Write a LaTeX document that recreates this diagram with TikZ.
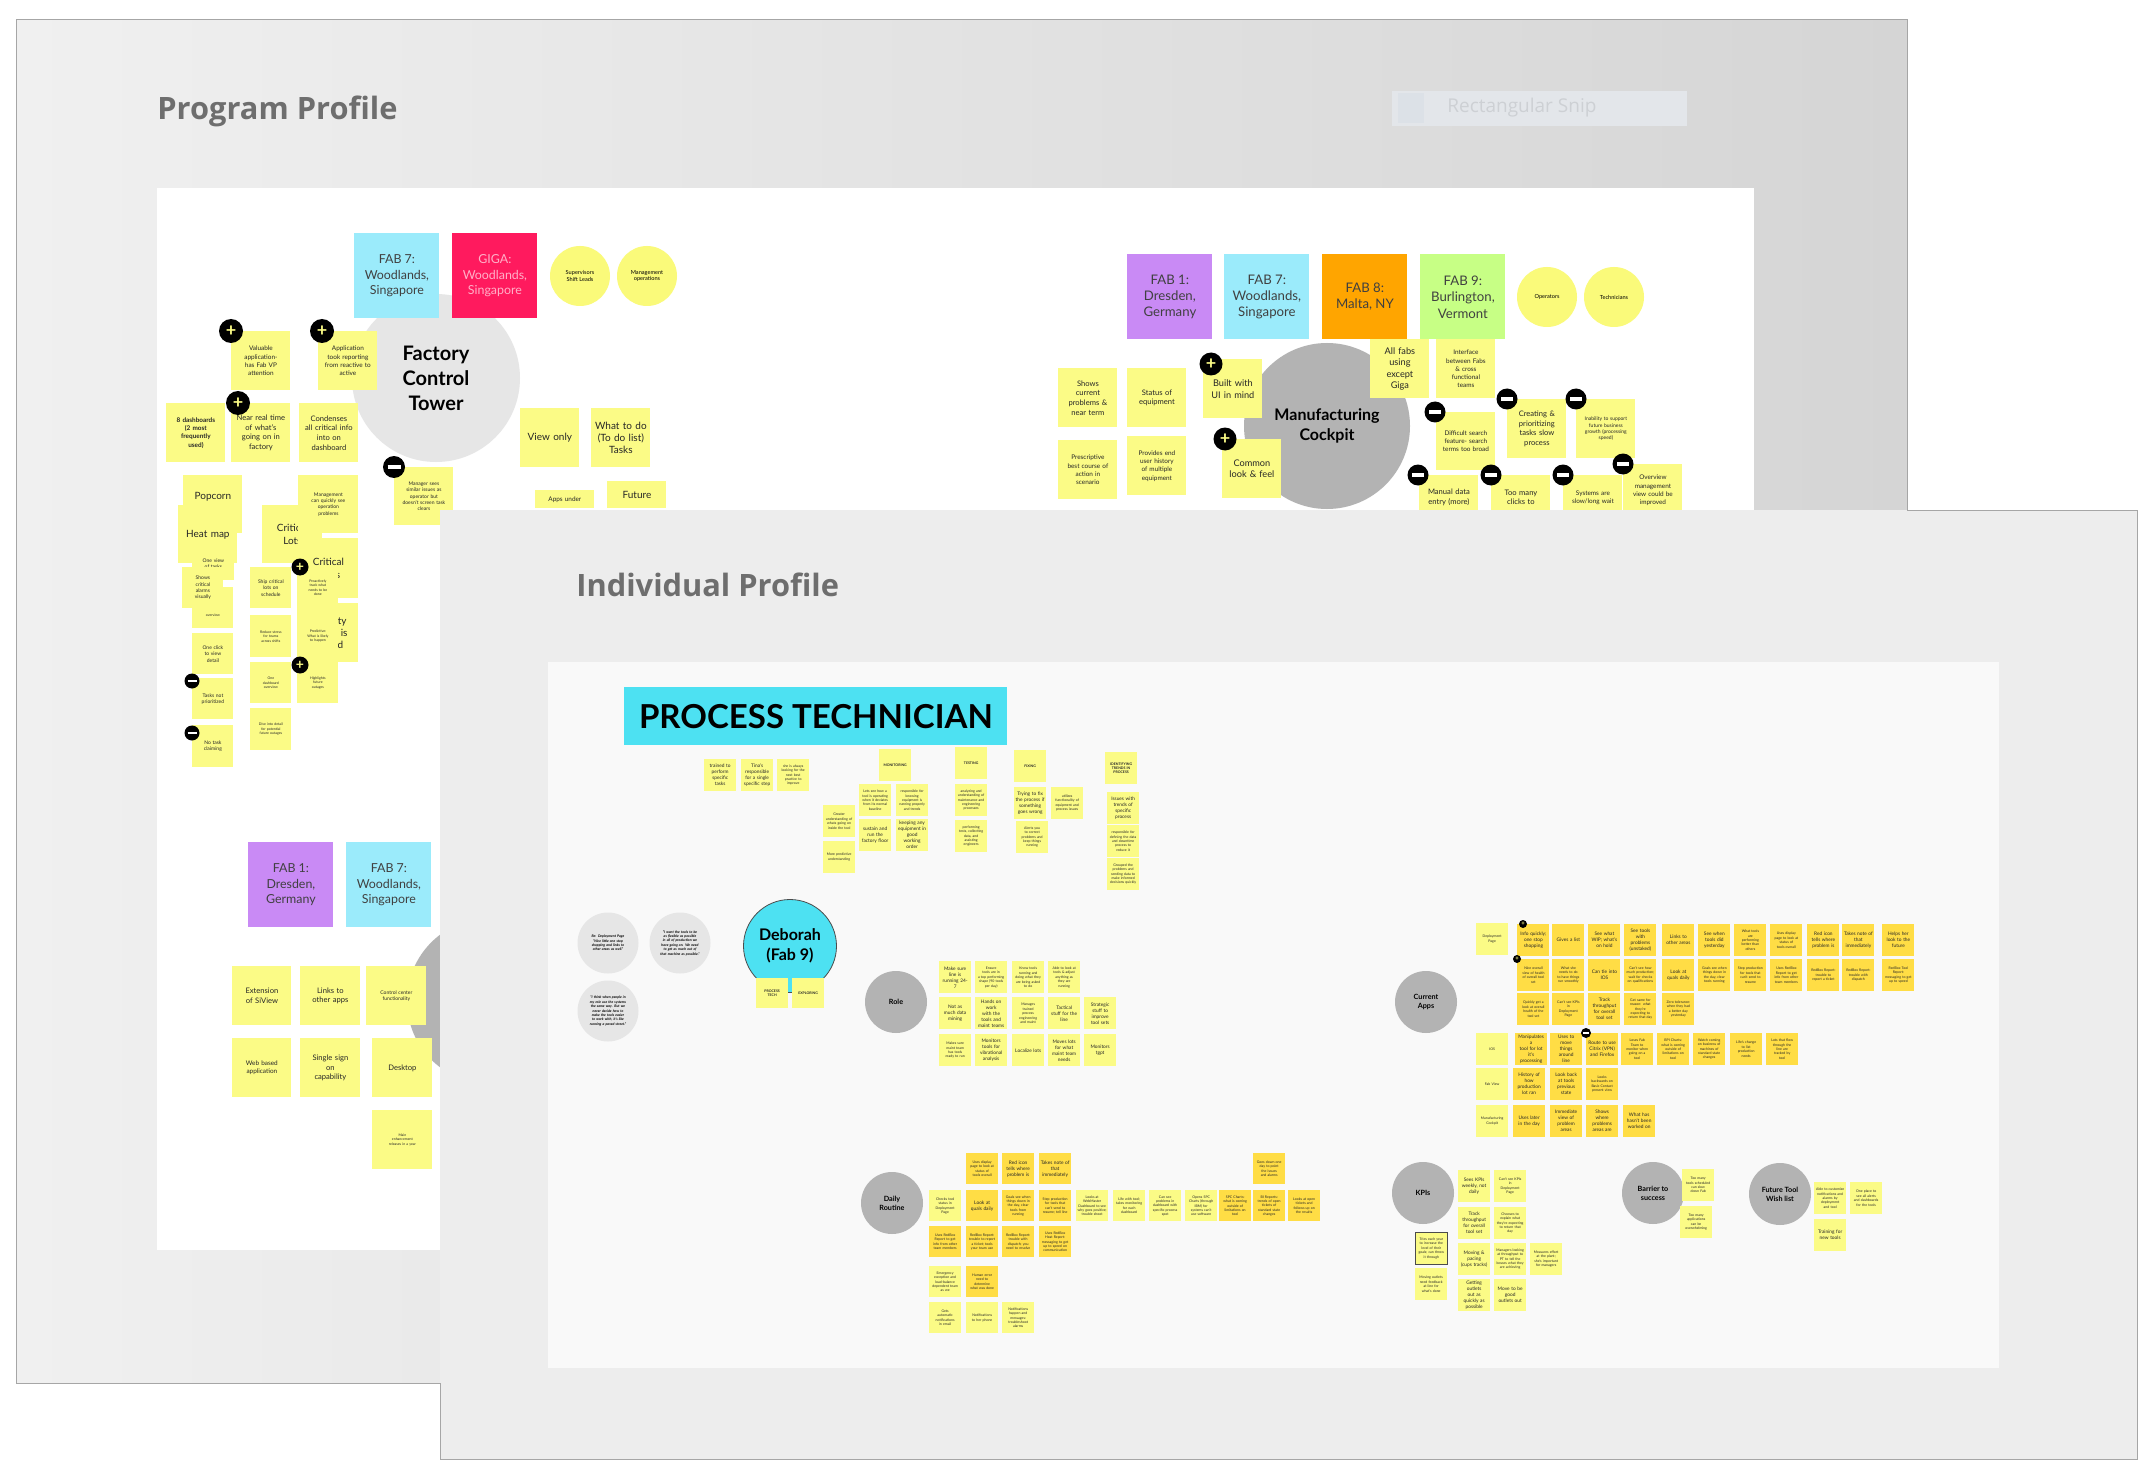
\documentclass[tikz,border=0pt]{standalone}
\usepackage{fontspec}
\setmainfont{Lato}
\newfontfamily\ttlfont{Open Sans}
\usetikzlibrary{shapes.geometric}
\definecolor{stL}{HTML}{FBFB86}
\definecolor{stD}{HTML}{FFDD45}
\definecolor{cyF}{HTML}{9BEBFB}
\definecolor{gig}{HTML}{FF1A5E}
\definecolor{pinkT}{HTML}{FFB0C8}
\definecolor{pur}{HTML}{C98AF5}
\definecolor{org}{HTML}{FFA500}
\definecolor{grn}{HTML}{C7FF85}
\definecolor{ycir}{HTML}{FAFA7A}
\definecolor{gL}{HTML}{E6E6E6}
\definecolor{gD}{HTML}{B3B3B3}
\definecolor{cyB}{HTML}{4DE1F2}
\definecolor{ttl}{HTML}{6E6E6E}
\definecolor{bgA}{HTML}{F0F0F0}
\definecolor{bgB}{HTML}{D5D5D5}
\definecolor{fpn}{HTML}{EDEDED}
\definecolor{fbd}{HTML}{F9F9F9}
\definecolor{snip}{HTML}{E3E6EA}
\definecolor{snipI}{HTML}{DCE1E7}
\definecolor{snipT}{HTML}{CDD0D4}
\newcommand\fA{\fontsize{5}{6.2}\selectfont}
\newcommand\fB{\fontsize{3.8}{4.8}\selectfont}
\newcommand\fC{\fontsize{3.2}{4.1}\selectfont}
\newcommand\fD{\fontsize{2.5}{3.2}\selectfont}
\newcommand\fE{\fontsize{2.4}{3}\selectfont}
\newcommand\fF{\fontsize{1.75}{2.2}\selectfont}
\newcommand\fFab{\fontsize{6.6}{8.2}\selectfont}
\newcommand\fCir{\bfseries\fontsize{3.6}{4.4}\selectfont}
\newcommand{\Stk}[6][]{\pgfmathsetlengthmacro\tw{#4-2.5pt}\node[stk,anchor=north west,minimum width=#4,minimum height=#5,text width=\tw,#1] (#2) at (#3) {#6};}
\newcommand{\Sm}[4][]{\node[stk,anchor=north west,minimum width=15.75pt,minimum height=15.75pt,text width=14.5pt,font=\fE,#1] (#2) at (#3) {#4};}
\newcommand{\mbar}[2]{\color{white}\rule{#1}{#2}}
\begin{document}
\begin{tikzpicture}[x=0.5pt,y=-0.5pt,
 stk/.style={fill=stL,inner sep=0pt,align=center,font=\fB,text=black!85},
 sq/.style={inner sep=0pt,align=center,anchor=north west},
 pico/.style={circle,fill=black,inner sep=0pt,minimum size=12pt,text=stL,font=\bfseries\fontsize{9}{9}\selectfont},
 mico/.style={circle,fill=black,inner sep=0pt,minimum size=11pt},
 bub/.style={ellipse,inner sep=0pt,align=center}]
\fill[white] (0,0) rectangle (2154,1482);
\useasboundingbox (0,0) rectangle (2154,1482);
% ================= back panel: Program Profile =================
\shade[left color=bgA,right color=bgB] (16,20) rectangle (1907,1383);
\draw[gray!70,line width=0.5pt] (16,20) rectangle (1907,1383);
\node[anchor=west,inner sep=0pt,font=\ttlfont\bfseries\fontsize{15.4}{17}\selectfont,text=ttl] (pp) at (157,111) {Program Profile};
\node[anchor=north west,fill=snip,minimum width=147.5pt,minimum height=17.5pt,inner sep=0pt] (snipbox) at (1392,91) {};
\node[fill=snipI,minimum width=13pt,minimum height=15pt,inner sep=0pt] (snipicon) at (1411,108) {};
\node[anchor=west,inner sep=0pt,text=snipT,font=\ttlfont\fontsize{9.5}{10}\selectfont] (sniptxt) at (1447,108) {Rectangular Snip};
\fill[white] (157,188) rectangle (1754,1250);
% circles
\node[circle,fill=gL,minimum size=84pt,inner sep=0pt,align=center,font=\bfseries\fontsize{10}{12.5}\selectfont] (fct) at (436,378) {Factory\\Control\\Tower};
\node[circle,fill=gD,minimum size=83pt,inner sep=0pt,align=center,font=\bfseries\fontsize{8}{9.8}\selectfont] (mc) at (1327,426) {Manufacturing\\Cockpit};
\node[circle,fill=gD,minimum size=83pt,inner sep=0pt] (hc) at (490,1001) {};
% top-left cluster
\node[sq,fill=cyF,minimum width=42.5pt,minimum height=42.5pt,font=\fontsize{6.2}{7.8}\selectfont,text=black!75] (f7a) at (354,233) {FAB 7:\\Woodlands,\\Singapore};
\node[sq,fill=gig,minimum width=42.5pt,minimum height=42.5pt,font=\fontsize{6.2}{7.8}\selectfont,text=pinkT] (giga) at (452,233) {GIGA:\\Woodlands,\\Singapore};
\node[circle,fill=ycir,minimum size=30pt,inner sep=0pt,align=center,font=\fontsize{2.8}{3.4}\selectfont] (yc1) at (580,276) {Supervisors\\Shift Leads};
\node[circle,fill=ycir,minimum size=30pt,inner sep=0pt,align=center,font=\fontsize{2.8}{3.4}\selectfont] (yc2) at (647,276) {Management\\operations};
\Stk[font=\fC]{s1}{231,331}{29.5pt}{29.5pt}{Valuable\\application-\\has Fab VP\\attention}
\node[pico] (p1) at (231,331) {+};
\Stk[font=\fC]{s2}{318,331}{29.5pt}{29.5pt}{Application\\took reporting\\from reactive to\\active}
\node[pico] (p2) at (322,331) {+};
\Stk[font=\bfseries\fC]{s3}{166,403}{29.5pt}{29.5pt}{8 dashboards\\(2 most\\frequently\\used)}
\Stk[font=\fB]{s4}{231,403}{29.5pt}{29.5pt}{Near real time\\of what's\\going on in\\factory}
\Stk[font=\fB]{s5}{299,403}{29.5pt}{29.5pt}{Condenses\\all critical info\\into on\\dashboard}
\node[pico] (p3) at (238,403) {+};
\Stk[font=\fD]{s6}{394,467}{29.5pt}{29pt}{Manager sees\\similar issues as\\operator but\\doesn't screen task\\clears}
\node[mico] (m1) at (394,467) {\mbar{6.5pt}{1.8pt}};
\Stk[font=\fA]{s7}{520,408}{29.5pt}{29.5pt}{View only}
\Stk[font=\fA]{s8}{591,408}{29.5pt}{29.5pt}{What to do\\(To do list)\\Tasks}
\Stk[font=\fC]{s9}{535,490}{29.5pt}{9pt}{Apps under}
\Stk[font=\fA]{s10}{607,481}{29.5pt}{13.5pt}{Future}
% left column
\Stk[font=\fA]{s11}{183,475}{29.5pt}{29pt}{Popcorn\\[2pt]~}
\Stk[font=\fA]{s12}{178,505}{29.5pt}{29pt}{Heat map}
\Stk[font=\fD]{s13}{192,547}{21pt}{16.5pt}{One view\\of tasks}
\Stk[font=\fF]{s15}{192,587}{20.5pt}{20.5pt}{~\\~\\~\\~\\overview}
\Stk[font=\fD]{s14}{182,567}{20.5pt}{20.5pt}{Shows\\critical\\alarms\\visually}
\Stk[font=\fD]{s16}{192,633}{20.5pt}{20.5pt}{One click\\to view\\detail}
\Stk[font=\fD]{s17}{192,678}{20.5pt}{20.5pt}{Tasks not\\prioritized}
\node[mico,minimum size=7.5pt] (m2) at (192,681) {\mbar{4.5pt}{1.2pt}};
\Stk[font=\fD]{s18}{192,725}{20.5pt}{21pt}{No task\\claiming}
\node[mico,minimum size=7.5pt] (m3) at (192,733) {\mbar{4.5pt}{1.2pt}};
\Stk[font=\fA]{s20}{262,505}{30pt}{29pt}{Critical\\Lots}
\Stk[font=\fD]{s19}{298,475}{30pt}{29pt}{Management\\can quickly see\\operation\\problems}
\Stk[font=\fA]{s21}{298,538}{30pt}{30pt}{Critical\\Tasks}
\Stk[font=\fA]{s23}{297,603}{30.5pt}{29.5pt}{Visibility\\WIP/T is\\is valid}
\Stk[font=\fD]{s24}{250,567}{20.5pt}{20.5pt}{Ship critical\\lots on\\schedule}
\Stk[font=\fF]{s22}{297,567}{20.5pt}{20.5pt}{Proactively\\track what\\needs to be\\done}
\Stk[font=\fF]{s25}{250,615}{20.5pt}{21pt}{Reduce stress\\for teams\\across shifts}
\Stk[font=\fF]{s26}{297,615}{20.5pt}{21pt}{Predictive:\\What is likely\\to happen}
\node[pico,minimum size=8.5pt,font=\bfseries\fontsize{7}{7}\selectfont] (p4) at (300,567) {+};
\Stk[font=\fF]{s27}{250,662}{20.5pt}{20.5pt}{One\\dashboard\\overview}
\Stk[font=\fF]{s28}{297,662}{20.5pt}{20.5pt}{Highlights\\future\\outages}
\node[pico,minimum size=8.5pt,font=\bfseries\fontsize{7}{7}\selectfont] (p5) at (300,665) {+};
\Stk[font=\fF]{s29}{250,708}{20.5pt}{21pt}{Dive into detail\\for potential\\future outages}
% lower-left cluster
\node[sq,fill=pur,minimum width=42.5pt,minimum height=42.5pt,font=\fontsize{6.2}{7.7}\selectfont,text=black!75] (f1b) at (248,842) {FAB 1:\\Dresden,\\Germany};
\node[sq,fill=cyF,minimum width=42.5pt,minimum height=42.5pt,font=\fontsize{6.2}{7.7}\selectfont,text=black!75] (f7b) at (346,842) {FAB 7:\\Woodlands,\\Singapore};
\Stk[font=\fB]{s30}{232,966}{29.5pt}{29.5pt}{Extension\\of SiView}
\Stk[font=\fB]{s31}{300,966}{30pt}{29.5pt}{Links to\\other apps}
\Stk[font=\fD]{s32}{366,966}{30pt}{29.5pt}{Control center\\functionality}
\Stk[font=\fC]{s33}{232,1038}{29.5pt}{29.5pt}{Web based\\application}
\Stk[font=\fB]{s34}{300,1038}{30pt}{29.5pt}{Single sign\\on\\capability}
\Stk[font=\fB]{s35}{372,1038}{30pt}{29.5pt}{Desktop}
\Stk[font=\fF]{s36}{372,1110}{30pt}{29.5pt}{Main\\enhancement\\releases in a year}
% right cluster
\node[sq,fill=pur,minimum width=42.5pt,minimum height=42.5pt,font=\fFab,text=black!75] (f1c) at (1127,254) {FAB 1:\\Dresden,\\Germany};
\node[sq,fill=cyF,minimum width=42.5pt,minimum height=42.5pt,font=\fFab,text=black!75] (f7c) at (1224,254) {FAB 7:\\Woodlands,\\Singapore};
\node[sq,fill=org,minimum width=42.5pt,minimum height=42.5pt,font=\fFab,text=black!75] (f8) at (1322,254) {FAB 8:\\Malta, NY};
\node[sq,fill=grn,minimum width=42.5pt,minimum height=42.5pt,font=\fFab,text=black!75] (f9) at (1420,254) {FAB 9:\\Burlington,\\Vermont};
\node[circle,fill=ycir,minimum size=30pt,inner sep=0pt,font=\fontsize{2.8}{3.4}\selectfont] (yc3) at (1547,297) {Operators};
\node[circle,fill=ycir,minimum size=30pt,inner sep=0pt,font=\fontsize{2.8}{3.4}\selectfont] (yc4) at (1614,297) {Technicians};
\Stk[font=\fB]{s40}{1058,368}{29.5pt}{29.5pt}{Shows\\current\\problems \&\\near term}
\Stk[font=\fB]{s41}{1127,368}{29.5pt}{29.5pt}{Status of\\equipment}
\Stk[font=\fC]{s42}{1058,440}{29.5pt}{29.5pt}{Prescriptive\\best course of\\action in\\scenario}
\Stk[font=\fC]{s43}{1127,436}{29.5pt}{29.5pt}{Provides end\\user history\\of multiple\\equipment}
\Stk[font=\fontsize{4.6}{5.8}\selectfont]{s44}{1203,359}{29.5pt}{29.5pt}{Built with\\UI in mind}
\node[pico,minimum size=11.5pt] (p6) at (1211,364) {+};
\Stk[font=\fontsize{4.6}{5.8}\selectfont]{s45}{1222,439}{29.5pt}{29.5pt}{Common\\look \& feel}
\node[pico,minimum size=11.5pt] (p7) at (1225,439) {+};
\Stk[font=\fontsize{4.6}{5.8}\selectfont]{s46}{1370,339}{29.5pt}{29.5pt}{All fabs\\using\\except\\Giga}
\Stk[font=\fC]{s47}{1436,339}{29.5pt}{29.5pt}{Interface\\between Fabs\\\& cross\\functional\\teams}
\Stk[font=\fC]{s48}{1436,412}{29.5pt}{29pt}{Difficult search\\feature- search\\terms too broad}
\node[mico,minimum size=10.5pt] (m4) at (1435,412) {\mbar{6pt}{1.6pt}};
\Stk[font=\fB]{s49}{1507,399}{29.5pt}{29.5pt}{Creating \&\\prioritizing\\tasks slow\\process}
\node[mico,minimum size=10.5pt] (m5) at (1507,399) {\mbar{6pt}{1.6pt}};
\Stk[font=\fD]{s50}{1576,399}{29.5pt}{29.5pt}{Inability to support\\future business\\growth (processing\\speed)}
\node[mico,minimum size=10.5pt] (m6) at (1576,399) {\mbar{6pt}{1.6pt}};
\Stk[font=\fB]{s51}{1419,475}{29.5pt}{22pt}{Manual data\\entry (more)}
\node[mico,minimum size=10.5pt] (m7) at (1418,475) {\mbar{6pt}{1.6pt}};
\Stk[font=\fB]{s52}{1491,475}{29.5pt}{22pt}{Too many\\clicks to}
\node[mico,minimum size=10.5pt] (m8) at (1491,475) {\mbar{6pt}{1.6pt}};
\Stk[font=\fC]{s53}{1563,475}{29.5pt}{22pt}{Systems are\\slow/long wait}
\node[mico,minimum size=10.5pt] (m9) at (1563,475) {\mbar{6pt}{1.6pt}};
\Stk[font=\fC]{s54}{1623,464}{29.5pt}{26pt}{Overview\\management\\view could be\\improved}
\node[mico,minimum size=10.5pt] (m10) at (1623,464) {\mbar{6pt}{1.6pt}};
% ================= front panel: Individual Profile =================
\fill[fpn] (440,510) rectangle (2137,1459);
\draw[gray!70,line width=0.5pt] (1907,510) -- (2137,510) -- (2137,1459) -- (440,1459) -- (440,1383);
\node[anchor=west,inner sep=0pt,font=\ttlfont\bfseries\fontsize{15.4}{17}\selectfont,text=ttl] (ip) at (576,585) {Individual Profile};
\fill[fbd] (548,662) rectangle (1999,1368);
\node[sq,fill=cyB,minimum width=191.5pt,minimum height=29pt,font=\bfseries\fontsize{16.5}{17}\selectfont] (pt) at (624,687) {PROCESS TECHNICIAN};
\Sm{t1}{704,759}{trained to\\perform\\specific\\tasks}
\Sm{t2}{741,759}{Tina's\\responsible\\for a single\\specific step}
\Sm[font=\fF]{t3}{777,759}{she is always\\looking for the\\next best\\practice to\\improve}
\Sm[font=\bfseries\fF]{h1}{879,749}{MONITORING}
\Sm[font=\fF]{t4}{823,805}{Greater\\understanding of\\whats going on\\inside the tool}
\Sm[font=\fF]{t5}{823,841}{More predictive\\understanding}
\Sm[font=\fF]{t6}{859,784}{Lets see how a\\tool is operating\\when it deviates\\from its normal\\baseline}
\Sm[font=\fF]{t7}{896,784}{responsible for\\knowing\\equipment is\\running properly\\and trends}
\Sm{t8}{859,819}{sustain and\\run the\\factory floor}
\Sm{t9}{896,819}{keeping any\\equipment in\\good working\\order}
\Sm[font=\bfseries\fF]{h2}{955,747}{TESTING}
\Sm[font=\fF]{t10}{955,784}{analyzing and\\understanding of\\maintenance and\\engineering\\processes}
\Sm[font=\fF]{t11}{955,820}{performing\\tests, collecting\\data, and\\assisting\\engineers}
\Sm[font=\bfseries\fF]{h3}{1014,750}{FIXING}
\Sm{t12}{1014,787}{Trying to fix\\the process if\\something\\goes wrong}
\Sm[font=\fF]{t13}{1051,787}{utilizes\\functionality of\\equipment and\\process issues}
\Sm[font=\fF]{t14}{1016,821}{Alerts you\\to correct\\problems and\\keep things\\running}
\Sm[font=\bfseries\fF]{h4}{1105,752}{IDENTIFYING\\TRENDS IN\\PROCESS}
\Sm{t15}{1107,792}{Issues with\\trends of\\specific\\process}
\Sm[font=\fF]{t16}{1107,825}{responsible for\\defining the data\\and downtime\\process to\\reduce it}
\Sm[font=\fF]{t17}{1107,858}{Grouped the\\problems and\\sending data to\\make informed\\decisions quickly}
% quotes and persona
\node[circle,fill=gL,minimum size=30.5pt,inner sep=0pt,align=center,text width=21pt,font=\bfseries\itshape\fF] (q1) at (608,943) {Re: Deployment Page ``Nice little one stop shopping and links to other areas as well.''};
\node[circle,fill=gL,minimum size=30.5pt,inner sep=0pt,align=center,text width=21pt,font=\bfseries\itshape\fF] (q2) at (680,943) {``I want the tools to be as flexible as possible in all of production we have going on. We need to get as much out of that machine as possible.''};
\node[circle,fill=gL,minimum size=30.5pt,inner sep=0pt,align=center,text width=21pt,font=\bfseries\itshape\fF] (q3) at (608,1011) {``I think when people in my role use the systems the same way. But we never decide how to make the tools easier to work with, it's like running a paved street.''};
\node[circle,fill=cyB,draw=black!70,line width=0.4pt,minimum size=46.5pt,inner sep=0pt,align=center,font=\bfseries\fontsize{8}{10}\selectfont] (deb) at (790,946) {Deborah\\(Fab 9)};
\Sm[font=\bfseries\fF,minimum height=15pt]{t18}{756,978}{PROCESS\\TECH}
\Sm[font=\bfseries\fF,minimum height=15pt]{t19}{792,978}{EXPLORING}
% Role
\node[circle,fill=gD,minimum size=31pt,inner sep=0pt,font=\fCir] (role) at (896,1002) {Role};
\Sm[minimum height=16pt]{r1}{939,961}{Make sure\\line is\\running 24-\\7}
\Sm[font=\fF,minimum height=16pt]{r2}{975,961}{Ensure tools are in\\a top performing\\shape (90 tools\\per day)}
\Sm[font=\fF,minimum height=16pt]{r3}{1012,961}{Know tools\\running and\\doing what they\\are being asked\\to do}
\Sm[font=\fF,minimum height=16pt]{r4}{1048,961}{Able to look at\\tools \& adjust\\anything as\\they are\\running}
\Sm[minimum height=16pt]{r5}{939,997}{Not as\\much data\\mining}
\Sm[minimum height=16pt]{r6}{975,997}{Hands on\\work with the\\tools and\\maint teams}
\Sm[font=\fF,minimum height=16pt]{r7}{1012,997}{Manages\\trained\\process\\engineering\\and maint}
\Sm[minimum height=16pt]{r8}{1048,997}{Tactical\\stuff for the\\line}
\Sm[minimum height=16pt]{r9}{1084,997}{Strategic\\stuff to\\improve\\tool sets}
\Sm[font=\fF,minimum height=16pt]{r10}{939,1034}{Makes sure\\maint team\\has tools\\ready to run}
\Sm[minimum height=16pt]{r11}{975,1034}{Monitors\\tools for\\vibrational\\analysis}
\Sm[minimum height=16pt]{r12}{1012,1034}{Localize lots}
\Sm[minimum height=16pt]{r13}{1048,1034}{Moves lots\\for what\\maint team\\needs}
\Sm[minimum height=16pt]{r14}{1084,1034}{Monitors\\tgpt}
% Daily Routine
\node[circle,fill=gD,minimum size=31pt,inner sep=0pt,align=center,font=\fCir] (dr) at (892,1203) {Daily\\Routine};
\Sm[font=\fF,fill=stD,minimum height=15.5pt]{d1}{966,1153}{Uses display\\page to look at\\status of\\tools overall}
\Sm[fill=stD,minimum height=15.5pt]{d2}{1002,1153}{Red icon\\tells where\\problem is}
\Sm[fill=stD,minimum height=15.5pt]{d3}{1039,1153}{Takes note of\\that\\immediately}
\Sm[font=\fF,fill=stD,minimum height=15.5pt]{d4}{1253,1153}{Goes down one\\day to point\\the issues\\and alarms}
\Sm[font=\fF,minimum height=15.5pt]{d5}{929,1190}{Checks tool\\status in\\Deployment\\Page}
\Sm[fill=stD,minimum height=15.5pt]{d6}{966,1190}{Look at\\quals daily}
\Sm[font=\fF,fill=stD,minimum height=15.5pt]{d7}{1002,1190}{Goals see when\\things down in\\the day, clear\\tools from\\running}
\Sm[font=\fF,fill=stD,minimum height=15.5pt]{d8}{1039,1190}{Step production\\for tools that\\can't send to\\resume; tell line}
\Sm[font=\fF,minimum height=15.5pt]{d9}{1076,1190}{Looks at WebMaster\\Dashboard to see\\why goes positive;\\trouble shoot}
\Sm[font=\fF,minimum height=15.5pt]{d10}{1113,1190}{Life with tool;\\takes monitoring\\for each\\dashboard}
\Sm[font=\fF,minimum height=15.5pt]{d11}{1149,1190}{Can see\\problems in\\dashboard with\\specific process\\spot}
\Sm[font=\fF,minimum height=15.5pt]{d12}{1185,1190}{Opens SPC\\Charts (through\\IBM) for\\systems can't\\use software}
\Sm[font=\fF,fill=stD,minimum height=15.5pt]{d13}{1219,1190}{SPC Charts:\\what is coming\\outside of\\limitations on\\tool}
\Sm[font=\fF,fill=stD,minimum height=15.5pt]{d14}{1253,1190}{BI Reports:\\trends of open\\tickets of\\standard state\\changes}
\Sm[font=\fF,fill=stD,minimum height=15.5pt]{d15}{1288,1190}{Looks at open\\tickets and\\follows up on\\the results}
\Sm[font=\fF,fill=stD,minimum height=15.5pt]{d16}{929,1226}{Uses RedBox\\Report to get\\info from other\\team members}
\Sm[font=\fF,fill=stD,minimum height=15.5pt]{d17}{966,1226}{RedBox Report:\\trouble to report\\a ticket; tools\\your team use}
\Sm[font=\fF,fill=stD,minimum height=15.5pt]{d18}{1002,1226}{RedBox Report:\\trouble with\\dispatch; you\\need to resolve}
\Sm[font=\fF,fill=stD,minimum height=15.5pt]{d19}{1039,1226}{Uses RedBox\\Heat Report:\\messaging to get\\up to speed on\\communication}
\Sm[font=\fF,minimum height=15.5pt]{d20}{929,1266}{Emergency\\exception and\\load-balance\\dependent team\\as we}
\Sm[font=\fF,fill=stD,minimum height=15.5pt]{d21}{966,1266}{Human error\\need to\\determine\\what was done}
\Sm[font=\fF,minimum height=15.5pt]{d22}{929,1302}{Gets\\automatic\\notifications\\in email}
\Sm[font=\fF,minimum height=15.5pt]{d23}{966,1302}{Notifications\\to her phone}
\Sm[font=\fF,minimum height=15.5pt]{d24}{1002,1302}{Notifications\\happen and\\messages:\\troubleshoot\\alarms}
% Current Apps
\node[circle,fill=gD,minimum size=31pt,inner sep=0pt,align=center,font=\fCir] (ca) at (1426,1002) {Current\\Apps};
\Sm[font=\fF]{la1}{1476,923}{Deployment\\Page}
\Sm[fill=stD,minimum width=16pt]{c1}{1517,924}{Info quickly;\\one stop\\shopping}
\Sm[fill=stD,minimum width=16pt]{c2}{1552,924}{Gives a list}
\Sm[fill=stD,minimum width=16pt]{c3}{1588,924}{See what\\WIP; what's\\on hold}
\Sm[fill=stD,minimum width=16pt]{c4}{1624,924}{See tools\\with\\problems\\(unstaked)}
\Sm[fill=stD,minimum width=16pt]{c5}{1662,924}{Links to\\other areas}
\Sm[fill=stD,minimum width=16pt]{c6}{1698,924}{See when\\tools did\\yesterday}
\Sm[font=\fF,fill=stD,minimum width=16pt]{c7}{1734,924}{What tools\\are\\performing\\better than\\others}
\Sm[font=\fF,fill=stD,minimum width=16pt]{c8}{1770,924}{Uses display\\page to look at\\status of\\tools overall}
\Sm[fill=stD,minimum width=16pt]{c9}{1807,924}{Red icon\\tells where\\problem is}
\Sm[fill=stD,minimum width=16pt]{c10}{1842,924}{Takes note of\\that\\immediately}
\Sm[fill=stD,minimum width=16pt]{c11}{1882,924}{Helps her\\look to the\\future}
\node[pico,minimum size=4pt,font=\bfseries\fontsize{3}{3}\selectfont] (p8) at (1523,924) {+};
\Sm[font=\fF,fill=stD,minimum width=16pt]{c12}{1517,959}{Nice overall\\view of health\\of overall tool\\set}
\Sm[font=\fF,fill=stD,minimum width=16pt]{c13}{1552,959}{What she\\needs to do\\to have things\\run smoothly}
\Sm[fill=stD,minimum width=16pt]{c14}{1588,959}{Can tie into\\IOS}
\Sm[font=\fF,fill=stD,minimum width=16pt]{c15}{1624,959}{Can't see how\\much production;\\wait for checks\\on qualifications}
\Sm[fill=stD,minimum width=16pt]{c16}{1662,959}{Look at\\quals daily}
\Sm[font=\fF,fill=stD,minimum width=16pt]{c17}{1698,959}{Goals see when\\things down in\\the day, clear\\tools running}
\Sm[font=\fF,fill=stD,minimum width=16pt]{c18}{1734,959}{Step production\\for tools that\\can't send to\\resume}
\Sm[font=\fF,fill=stD,minimum width=16pt]{c19}{1770,959}{Uses RedBox\\Report to get\\info from other\\team members}
\Sm[font=\fF,fill=stD,minimum width=16pt]{c20}{1807,959}{RedBox Report:\\trouble to\\report a ticket}
\Sm[font=\fF,fill=stD,minimum width=16pt]{c21}{1842,959}{RedBox Report:\\trouble with\\dispatch}
\Sm[font=\fF,fill=stD,minimum width=16pt]{c22}{1882,959}{RedBox Tool\\Report:\\messaging to get\\up to speed}
\node[pico,minimum size=4pt,font=\bfseries\fontsize{3}{3}\selectfont] (p9) at (1517,959) {+};
\Sm[font=\fF,fill=stD,minimum width=16pt]{c23}{1517,993}{Quickly get a\\look at overall\\health of the\\tool set}
\Sm[font=\fF,fill=stD,minimum width=16pt]{c24}{1552,993}{Can't see KPIs\\in\\Deployment\\Page}
\Sm[fill=stD,minimum width=16pt]{c25}{1588,993}{Track\\throughput\\for overall\\tool set}
\Sm[font=\fF,fill=stD,minimum width=16pt]{c26}{1624,993}{Get same for\\reason: what\\they're\\expecting to\\return that day}
\Sm[font=\fF,fill=stD,minimum width=16pt]{c27}{1662,993}{Zero tolerance:\\when they had\\a better day\\yesterday}
\Sm[font=\fF]{la2}{1476,1033}{IOS}
\Sm[fill=stD]{c28}{1515,1033}{Manipulates a\\tool for lot\\it's\\processing}
\Sm[fill=stD]{c29}{1550,1033}{Uses to move\\things around\\line}
\Sm[fill=stD]{c30}{1586,1033}{Route to use\\Citrix (VPN)\\and Firefox}
\Sm[font=\fF,fill=stD]{c31}{1621,1033}{Loses Fab\\Team to\\monitor when\\going on a\\tool}
\Sm[font=\fF,fill=stD]{c32}{1657,1033}{BPI Charts:\\what is coming\\outside of\\limitations on\\tool}
\Sm[font=\fF,fill=stD]{c33}{1693,1033}{Watch coming\\on business of\\machines of\\standard state\\changes}
\Sm[font=\fF,fill=stD]{c34}{1730,1033}{Life's change\\to list\\production\\needs}
\Sm[font=\fF,fill=stD]{c35}{1766,1033}{Lots that flow\\through the\\line are\\tracked by\\tool}
\node[mico,minimum size=5pt] (m11) at (1586,1033) {\mbar{3pt}{0.8pt}};
\Sm[font=\fF]{la3}{1476,1068}{Fab View}
\Sm[fill=stD]{c36}{1513,1068}{History of\\how\\production\\lot ran}
\Sm[fill=stD]{c37}{1550,1068}{Look back\\at tools\\previous\\state}
\Sm[font=\fF,fill=stD]{c38}{1586,1068}{Looks\\backwards on\\Basic Contact\\present view}
\Sm[font=\fF]{la4}{1476,1105}{Manufacturing\\Cockpit}
\Sm[fill=stD]{c39}{1513,1105}{Uses later\\in the day}
\Sm[fill=stD]{c40}{1550,1105}{Immediate\\view of\\problem\\areas}
\Sm[fill=stD]{c41}{1586,1105}{Shows\\where\\problems\\areas are}
\Sm[fill=stD]{c42}{1623,1105}{What has\\hasn't been\\worked on}
% KPIs
\node[circle,fill=gD,minimum size=31pt,inner sep=0pt,font=\fCir] (kp) at (1423,1193) {KPIs};
\Sm{k1}{1458,1170}{Sees KPIs\\weekly, not\\daily}
\Sm[font=\fF]{k2}{1494,1170}{Can't see KPIs\\in\\Deployment\\Page}
\Sm{k3}{1458,1207}{Track\\throughput\\for overall\\tool set}
\Sm[font=\fF]{k4}{1494,1207}{Chooses to\\explain what\\they're expecting\\to return that\\day}
\Sm{k5}{1458,1243}{Moving \&\\pacing\\(cups tracks)}
\Sm[font=\fF]{k6}{1494,1243}{Managers looking\\at throughput to\\PT to tell the\\bosses what they\\are achieving}
\Sm[font=\fF]{k7}{1530,1243}{Measures effort\\at the plant;\\she's important\\for managers}
\Sm{k8}{1458,1279}{Getting\\outlets out as\\quickly as\\possible}
\Sm{k9}{1494,1279}{Move to be\\good\\outlets out}
\Sm[font=\fF,draw=black!70,line width=0.6pt]{k10}{1415,1232}{Tries each year\\to increase the\\level of their\\goals; can throw\\it through}
\Sm[font=\fF]{k11}{1415,1268}{Moving outlets\\need feedback\\at line for\\what's done}
% Barrier to success
\node[circle,fill=gD,minimum size=31pt,inner sep=0pt,align=center,font=\fCir] (bs) at (1653,1193) {Barrier to\\success};
\Sm[font=\fF]{b1}{1682,1169}{Too many\\tools scheduled\\can slow\\down Fab}
\Sm[font=\fF]{b2}{1680,1206}{Too many\\applications\\can be\\overwhelming}
% Future Tool Wish list
\node[circle,fill=gD,minimum size=31pt,inner sep=0pt,align=center,font=\fCir] (fw) at (1780,1194) {Future Tool\\Wish list};
\Sm[font=\fF]{w1}{1814,1182}{Able to customize\\notifications and\\alarms by\\deployment\\and tool}
\Sm[font=\fF]{w2}{1850,1182}{One place to\\see all alerts\\and dashboards\\for the tools}
\Sm{w3}{1814,1219}{Training for\\new tools}
\end{tikzpicture}
\end{document}
